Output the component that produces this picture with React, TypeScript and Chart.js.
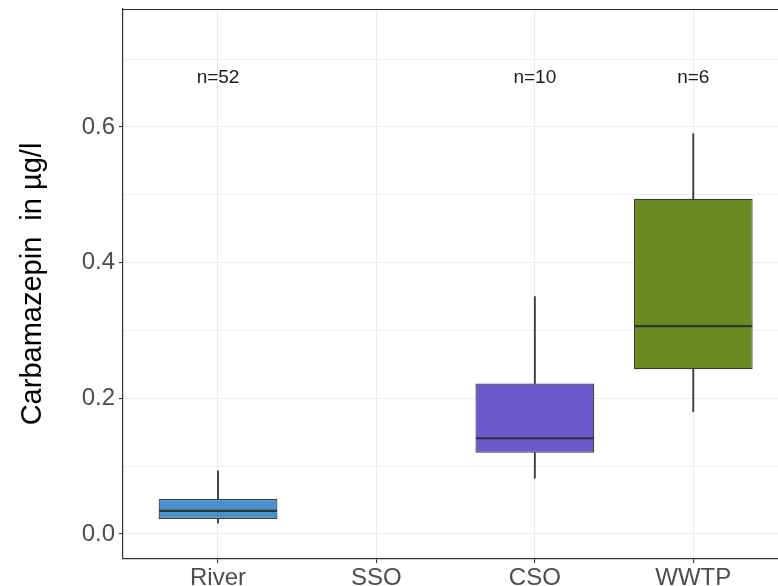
import React, { useEffect, useRef } from "react";
import { Chart, registerables } from "chart.js";

Chart.register(...registerables);

const categories = ["River", "SSO", "CSO", "WWTP"];
const whiskerLow = [0.0158, null, 0.0822, 0.1804];
const q1 = [0.0221, null, 0.1199, 0.2429];
const median = [0.0339, null, 0.1411, 0.3063];
const q3 = [0.0516, null, 0.2217, 0.494];
const whiskerHigh = [0.0929, null, 0.35, 0.59];
const nLabels = ["n=52", "", "n=10", "n=6"];
const nLabelY = 0.672;
const fillColors = ["#4a90cd", "#ffffff", "#6a59cc", "#6a8a22"];
const yTicks = [0, 0.1, 0.2, 0.3, 0.4, 0.5, 0.6, 0.7];
const yMajor = [0, 0.2, 0.4, 0.6];
const yTitle = "Carbamazepin  in µg/l";

const isMajor = (v: number) => yMajor.some((m) => Math.abs(m - v) < 1e-6);
const FONT = "'Liberation Sans', Arial, sans-serif";

const boxExtras = {
  id: "boxExtras",
  afterDatasetsDraw(chart: any) {
    const { ctx, chartArea, scales } = chart;
    const y = scales.y;
    const meta = chart.getDatasetMeta(0);
    ctx.save();
    ctx.beginPath();
    ctx.rect(chartArea.left, chartArea.top, chartArea.right - chartArea.left, chartArea.bottom - chartArea.top);
    ctx.clip();
    meta.data.forEach((el: any, i: number) => {
      if (median[i] == null) return;
      const py = y.getPixelForValue(median[i]);
      ctx.strokeStyle = "#333333";
      ctx.lineWidth = 2.2;
      ctx.beginPath();
      ctx.moveTo(el.x - el.width / 2 + 0.5, py);
      ctx.lineTo(el.x + el.width / 2 - 0.5, py);
      ctx.stroke();
    });
    ctx.restore();
  },
  afterDraw(chart: any) {
    const { ctx, chartArea, scales } = chart;
    const x = scales.x;
    const y = scales.y;
    ctx.save();
    ctx.fillStyle = "#1a1a1a";
    ctx.font = "19px " + FONT;
    ctx.textAlign = "center";
    ctx.textBaseline = "middle";
    nLabels.forEach((t, i) => {
      if (!t) return;
      ctx.fillText(t, x.getPixelForValue(i), y.getPixelForValue(nLabelY));
    });
    ctx.strokeStyle = "#333333";
    ctx.lineWidth = 1.2;
    ctx.beginPath();
    ctx.moveTo(chartArea.left, chartArea.top + 0.5);
    ctx.lineTo(chartArea.right + 20, chartArea.top + 0.5);
    ctx.stroke();
    ctx.restore();
  },
};

export default function App() {
  const ref = useRef<HTMLCanvasElement | null>(null);
  useEffect(() => {
    if (!ref.current) return;
    const chart = new Chart(ref.current, {
      type: "bar",
      data: {
        datasets: [
          {
            label: "box",
            data: categories.map((_, i) => ({ x: i, y: q1[i] == null ? null : [q1[i], q3[i]] })) as any,
            backgroundColor: fillColors,
            borderColor: "#3a3a3a",
            borderWidth: 1.2,
            borderSkipped: false,
            barPercentage: 0.75,
            categoryPercentage: 1,
            grouped: false,
          } as any,
          {
            label: "whiskerLow",
            data: categories.map((_, i) => ({ x: i, y: q1[i] == null ? null : [whiskerLow[i], q1[i]] })) as any,
            backgroundColor: "#3a3a3a",
            barThickness: 1.2,
            grouped: false,
          } as any,
          {
            label: "whiskerHigh",
            data: categories.map((_, i) => ({ x: i, y: q3[i] == null ? null : [q3[i], whiskerHigh[i]] })) as any,
            backgroundColor: "#3a3a3a",
            barThickness: 1.2,
            grouped: false,
          } as any,
        ],
      },
      options: {
        animation: false,
        responsive: false,
        maintainAspectRatio: false,
        layout: { padding: { top: 9, left: 0, right: 0, bottom: 0 } },
        plugins: { legend: { display: false }, tooltip: { enabled: false } },
        scales: {
          x: {
            type: "linear",
            offset: false,
            min: -0.6,
            max: 3.535,
            afterBuildTicks: (s: any) => {
              s.ticks = categories.map((_, i) => ({ value: i }));
            },
            afterFit: (s: any) => {
              s.height = 27;
              s.paddingLeft = 0;
              s.paddingRight = 0;
            },
            ticks: {
              callback: (v: any) => categories[Math.round(v)] ?? "",
              color: "#4d4d4d",
              font: { family: FONT, size: 24 },
              padding: 1,
              maxRotation: 0,
              autoSkip: false,
            },
            grid: {
              offset: false,
              color: "#ebebeb",
              lineWidth: 1.1,
              tickColor: "#333333",
              tickLength: 4,
              tickWidth: 1.1,
            },
            border: { display: true, color: "#333333", width: 1.2 },
          },
          y: {
            type: "linear",
            min: -0.0369,
            max: 0.7739,
            afterBuildTicks: (s: any) => {
              s.ticks = yTicks.map((v) => ({ value: v }));
            },
            afterFit: (s: any) => {
              s.width = 123;
              s.paddingTop = 0;
              s.paddingBottom = 0;
            },
            ticks: {
              callback: (v: any) => (isMajor(Number(v)) ? Number(v).toFixed(1) : ""),
              color: "#4d4d4d",
              font: { family: FONT, size: 24 },
              padding: 4,
            },
            grid: {
              color: "#ebebeb",
              lineWidth: (c: any) => (isMajor(c.tick?.value ?? 0) ? 1.1 : 0.7),
              tickColor: (c: any) => (isMajor(c.tick?.value ?? 0) ? "#333333" : "rgba(0,0,0,0)"),
              tickLength: 4,
              tickWidth: 1.1,
            },
            border: { display: true, color: "#333333", width: 1.2 },
            title: {
              display: true,
              text: yTitle,
              color: "#000000",
              font: { family: FONT, size: 29 },
              padding: { top: 16, bottom: 0 },
            },
          },
        },
      },
      plugins: [boxExtras],
    });
    return () => chart.destroy();
  }, []);
  return (
    <div style={{ position: "fixed", left: 0, top: 0, width: 778, height: 586, overflow: "hidden", background: "#fff" }}>
      <canvas ref={ref} width={778} height={586} style={{ display: "block" }} />
    </div>
  );
}
